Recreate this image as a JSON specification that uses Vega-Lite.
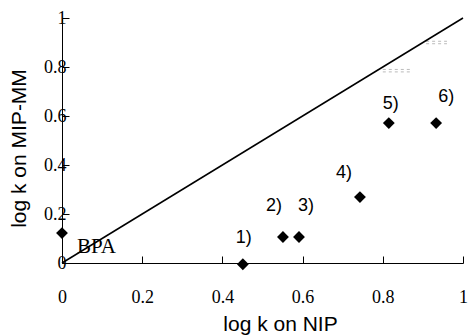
{
  "$schema": "https://vega.github.io/schema/vega-lite/v6.json",
  "width": 401,
  "height": 245,
  "autosize": "none",
  "padding": {"left": 62, "top": 18, "right": 5, "bottom": 72},
  "background": "white",
  "config": {"view": {"stroke": null}},
  "datasets": {
    "pts": [
      {"name": "BPA", "nip": 0.0, "mm": 0.122},
      {"name": "1)", "nip": 0.451, "mm": -0.005},
      {"name": "2)", "nip": 0.551, "mm": 0.106},
      {"name": "3)", "nip": 0.591, "mm": 0.106},
      {"name": "4)", "nip": 0.743, "mm": 0.269},
      {"name": "5)", "nip": 0.815, "mm": 0.571},
      {"name": "6)", "nip": 0.933, "mm": 0.571}
    ],
    "diag": [{"nip": 0, "mm": 0}, {"nip": 1, "mm": 1}],
    "dash": [
      {"x1": 0.80, "x2": 0.873, "y": 0.79},
      {"x1": 0.80, "x2": 0.873, "y": 0.78},
      {"x1": 0.908, "x2": 0.96, "y": 0.905},
      {"x1": 0.908, "x2": 0.96, "y": 0.895}
    ]
  },
  "layer": [
    {
      "data": {"name": "dash"},
      "mark": {"type": "rule", "color": "#bbbbbb", "strokeDash": [3, 3], "strokeWidth": 1},
      "encoding": {
        "x": {"field": "x1", "type": "quantitative", "scale": {"domain": [0, 1]}},
        "x2": {"field": "x2"},
        "y": {"field": "y", "type": "quantitative", "scale": {"domain": [0, 1]}}
      }
    },
    {
      "data": {"name": "diag"},
      "mark": {"type": "line", "color": "black", "strokeWidth": 1.5},
      "encoding": {
        "x": {
          "field": "nip", "type": "quantitative",
          "scale": {"domain": [0, 1], "nice": false},
          "axis": {
            "title": "log k on NIP",
            "titleFont": "Liberation Sans", "titleFontSize": 21, "titleFontWeight": "normal", "titleColor": "black",
            "titleBaseline": "middle", "titleX": 218, "titleY": 61,
            "values": [0, 0.2, 0.4, 0.6, 0.8, 1],
            "format": ".1~f",
            "labelFont": "Liberation Serif", "labelFontSize": 18, "labelColor": "black",
            "labelPadding": 32, "labelFlush": false,
            "tickSize": -7, "tickColor": "black", "domainColor": "black", "grid": false
          }
        },
        "y": {
          "field": "mm", "type": "quantitative",
          "scale": {"domain": [0, 1], "nice": false},
          "axis": {
            "title": "log k on MIP-MM",
            "titleFont": "Liberation Sans", "titleFontSize": 21, "titleFontWeight": "normal", "titleColor": "black",
            "titleBaseline": "middle", "titleX": -43, "titleY": 130,
            "values": [0, 0.2, 0.4, 0.6, 0.8, 1],
            "format": ".1~f",
            "labelFont": "Liberation Serif", "labelFontSize": 18, "labelColor": "black",
            "labelPadding": 3, "labelFlush": false,
            "tickSize": -7, "tickColor": "black", "domainColor": "black", "grid": false
          }
        }
      }
    },
    {
      "data": {"name": "pts"},
      "mark": {"type": "point", "shape": "diamond", "filled": true, "color": "black", "opacity": 1, "size": 140, "clip": false},
      "encoding": {
        "x": {"field": "nip", "type": "quantitative"},
        "y": {"field": "mm", "type": "quantitative"}
      }
    },
    {
      "data": {"name": "pts"},
      "transform": [{"filter": "datum.name === '1)'"}],
      "mark": {"type": "text", "font": "Liberation Sans", "fontSize": 18, "color": "black", "dx": 1, "dy": -26, "baseline": "middle", "align": "center"},
      "encoding": {
        "x": {"field": "nip", "type": "quantitative"},
        "y": {"field": "mm", "type": "quantitative"},
        "text": {"field": "name"}
      }
    },
    {
      "data": {"name": "pts"},
      "transform": [{"filter": "datum.name === '2)'"}],
      "mark": {"type": "text", "font": "Liberation Sans", "fontSize": 18, "color": "black", "dx": -9, "dy": -31, "baseline": "middle", "align": "center"},
      "encoding": {
        "x": {"field": "nip", "type": "quantitative"},
        "y": {"field": "mm", "type": "quantitative"},
        "text": {"field": "name"}
      }
    },
    {
      "data": {"name": "pts"},
      "transform": [{"filter": "datum.name === '3)'"}],
      "mark": {"type": "text", "font": "Liberation Sans", "fontSize": 18, "color": "black", "dx": 7, "dy": -31, "baseline": "middle", "align": "center"},
      "encoding": {
        "x": {"field": "nip", "type": "quantitative"},
        "y": {"field": "mm", "type": "quantitative"},
        "text": {"field": "name"}
      }
    },
    {
      "data": {"name": "pts"},
      "transform": [{"filter": "datum.name === '4)'"}],
      "mark": {"type": "text", "font": "Liberation Sans", "fontSize": 18, "color": "black", "dx": -16, "dy": -24, "baseline": "middle", "align": "center"},
      "encoding": {
        "x": {"field": "nip", "type": "quantitative"},
        "y": {"field": "mm", "type": "quantitative"},
        "text": {"field": "name"}
      }
    },
    {
      "data": {"name": "pts"},
      "transform": [{"filter": "datum.name === '5)'"}],
      "mark": {"type": "text", "font": "Liberation Sans", "fontSize": 18, "color": "black", "dx": 2, "dy": -19, "baseline": "middle", "align": "center"},
      "encoding": {
        "x": {"field": "nip", "type": "quantitative"},
        "y": {"field": "mm", "type": "quantitative"},
        "text": {"field": "name"}
      }
    },
    {
      "data": {"name": "pts"},
      "transform": [{"filter": "datum.name === '6)'"}],
      "mark": {"type": "text", "font": "Liberation Sans", "fontSize": 18, "color": "black", "dx": 10, "dy": -26, "baseline": "middle", "align": "center"},
      "encoding": {
        "x": {"field": "nip", "type": "quantitative"},
        "y": {"field": "mm", "type": "quantitative"},
        "text": {"field": "name"}
      }
    },
    {
      "data": {"name": "pts"},
      "transform": [{"filter": "datum.name === 'BPA'"}],
      "mark": {"type": "text", "font": "Liberation Serif", "fontSize": 21, "color": "black", "dx": 15, "dy": 14, "baseline": "middle", "align": "left"},
      "encoding": {
        "x": {"field": "nip", "type": "quantitative"},
        "y": {"field": "mm", "type": "quantitative"},
        "text": {"field": "name"}
      }
    }
  ]
}
